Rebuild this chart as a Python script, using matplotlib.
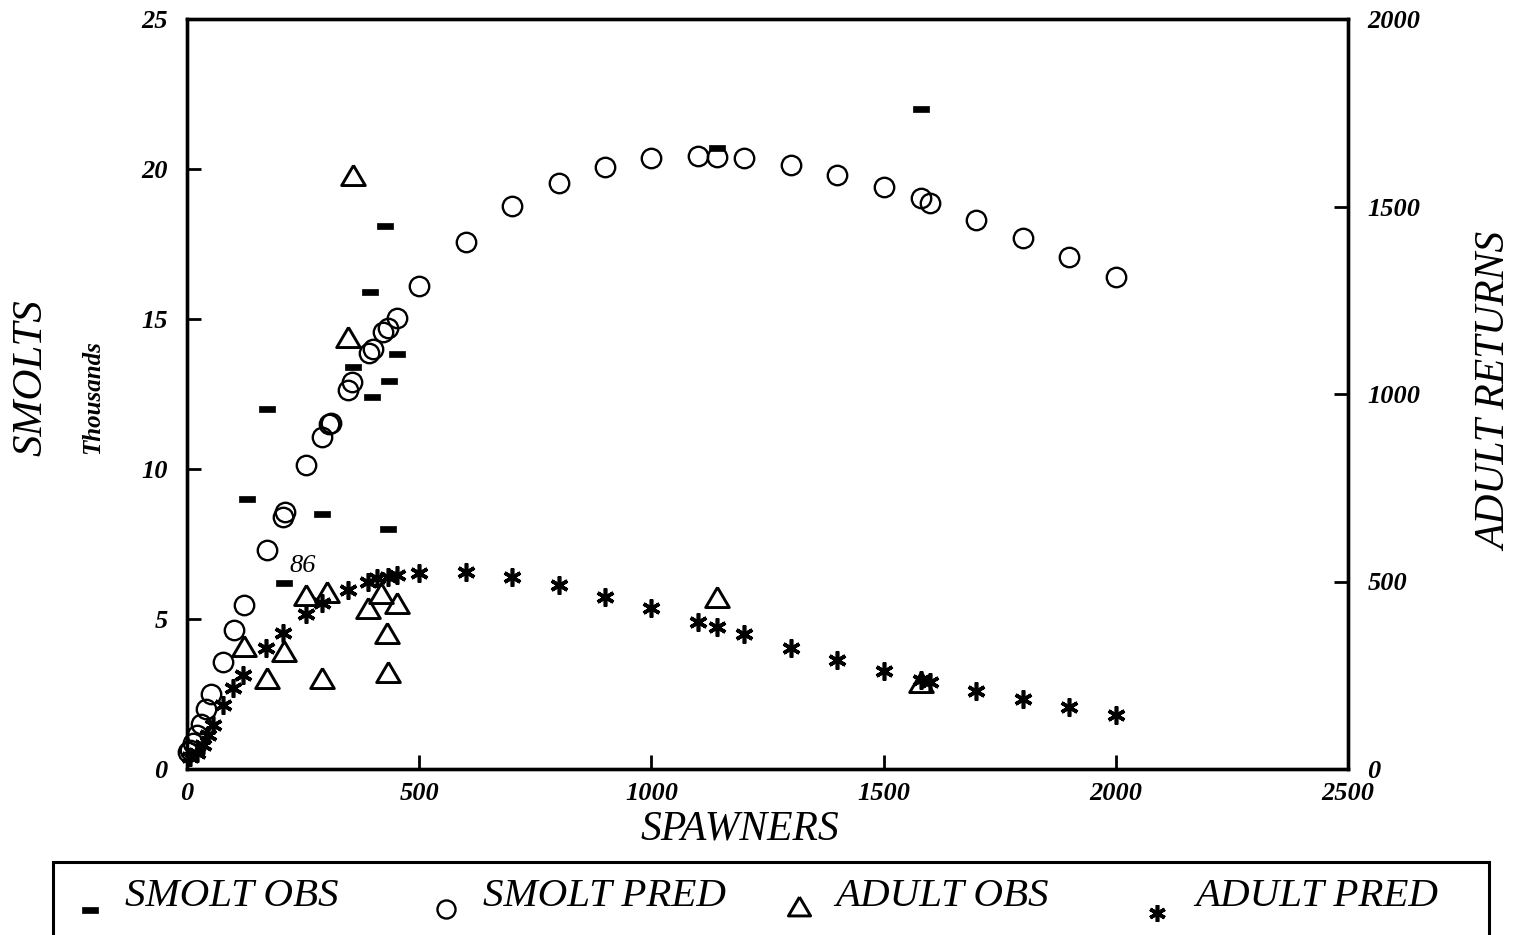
import matplotlib
matplotlib.use("Agg")
import matplotlib.pyplot as plt
from matplotlib.lines import Line2D
from matplotlib.patches import Rectangle

# ---------------- data ----------------
smolt_obs_spawners = [129, 172, 209, 291, 358, 394, 399, 427, 435, 453, 433, 1142, 1580]
smolt_obs = [9.0, 12.0, 6.2, 8.5, 13.4, 15.9, 12.4, 18.1, 12.95, 13.85, 8.0, 20.7, 22.0]

smolt_pred_spawners = [2, 6, 13, 22, 30, 41, 52, 78, 101, 123, 172, 207, 211, 256, 291, 306, 310,
                       347, 356, 392, 401, 422, 433, 453, 500, 600, 700, 800, 900, 1000, 1100,
                       1142, 1200, 1300, 1400, 1500, 1580, 1600, 1700, 1800, 1900, 2000]
smolt_pred = [0.57, 0.63, 0.87, 1.13, 1.5, 2.0, 2.5, 3.57, 4.63, 5.47, 7.3, 8.4, 8.57, 10.13, 11.07,
              11.5, 11.53, 12.63, 12.9, 13.87, 14.0, 14.57, 14.7, 15.03, 16.1, 17.57, 18.77, 19.53,
              20.07, 20.37, 20.43, 20.4, 20.37, 20.13, 19.8, 19.4, 19.03, 18.87, 18.3, 17.7, 17.07, 16.4]

adult_obs_spawners = [358, 347, 123, 172, 209, 256, 302, 291, 390, 418, 453, 431, 433, 1142, 1580]
adult_obs = [1584, 1152, 328, 243, 315, 464, 472, 243, 429, 469, 443, 363, 259, 459, 232]

adult_pred_spawners = [6, 22, 35, 45, 56, 78, 100, 120, 170, 207, 256, 291, 347, 390, 410, 433, 453,
                       500, 600, 700, 800, 900, 1000, 1100, 1142, 1200, 1300, 1400, 1500, 1580,
                       1600, 1700, 1800, 1900, 2000]
adult_pred = [32, 43, 64, 91, 117, 171, 216, 251, 323, 363, 413, 443, 477, 499, 509, 512, 517,
              523, 525, 512, 491, 459, 429, 392, 379, 360, 323, 291, 261, 237, 232, 208, 187, 165, 144]

x_ticks = [0, 500, 1000, 1500, 2000, 2500]
left_ticks = [0, 5, 10, 15, 20, 25]
right_ticks = [0, 500, 1000, 1500, 2000]
legend_labels = ["SMOLT OBS", "SMOLT PRED", "ADULT OBS", "ADULT PRED"]

# ---------------- style ----------------
FONT = "Liberation Serif"
plt.rcParams["font.family"] = [FONT, "DejaVu Serif"]
plt.rcParams["font.style"] = "italic"

W, H = 1517, 935
fig = plt.figure(figsize=(W / 100, H / 100), dpi=100)
fig.patch.set_facecolor("white")

def fx(px):
    return px / W

def fy(py):
    return 1 - py / H

ax = fig.add_axes([fx(187), fy(769), fx(1348) - fx(187), fy(19) - fy(769)])
ax2 = ax.twinx()

dash_marker = [(-1, -0.36), (1, -0.36), (1, 0.36), (-1, 0.36), (-1, -0.36)]
tri_marker = [(0, 0.85), (-1, -0.85), (1, -0.85), (0, 0.85)]
ast_marker = (6, 2, 0)

ax.plot(smolt_pred_spawners, smolt_pred, linestyle="none", marker="o", markersize=14,
        markerfacecolor="none", markeredgecolor="black", markeredgewidth=1.7, clip_on=False, zorder=3)
ax.plot(smolt_obs_spawners, smolt_obs, linestyle="none", marker=dash_marker, markersize=12,
        markerfacecolor="black", markeredgecolor="black", markeredgewidth=0.5, zorder=4)
ax2.plot(adult_obs_spawners, adult_obs, linestyle="none", marker=tri_marker, markersize=17,
         markerfacecolor="none", markeredgecolor="black", markeredgewidth=2.1, zorder=3)
ax2.plot(adult_pred_spawners, adult_pred, linestyle="none", marker=ast_marker, markersize=13,
         markeredgecolor="black", markeredgewidth=2.6, zorder=4, clip_on=False)

ax.text(250, 6.78, "86", fontsize=19, ha="center", va="center", family=FONT, style="italic")

ax.set_xlim(0, 2500)
ax.set_ylim(0, 25)
ax2.set_ylim(0, 2000)
ax.set_xticks(x_ticks)
ax.set_yticks(left_ticks)
ax2.set_yticks(right_ticks)

tick_font = dict(fontsize=19, family=FONT, style="italic", weight="bold")
ax.set_xticklabels([str(t) for t in x_ticks], **tick_font)
ax.set_yticklabels([str(t) for t in left_ticks], **tick_font)
ax2.set_yticklabels([str(t) for t in right_ticks], **tick_font)

for a in (ax, ax2):
    for s in a.spines.values():
        s.set_linewidth(2.4)
        s.set_color("black")
ax.tick_params(axis="both", direction="in", length=10, width=2.0, colors="black")
ax.tick_params(axis="y", pad=14)
ax.tick_params(axis="x", pad=9)
ax.tick_params(axis="y", right=False)
ax2.tick_params(axis="y", direction="in", length=10, width=2.0, pad=14)
ax2.tick_params(axis="x", top=False)

# axis titles
fig.text(fx(31), fy(378), "SMOLTS", rotation=90, fontsize=31, ha="center", va="center",
         family=FONT, style="italic")
fig.text(fx(93), fy(397), "Thousands", rotation=90, fontsize=18, ha="center", va="center",
         family=FONT, style="italic", weight="bold")
fig.text(fx(740), fy(829), "SPAWNERS", fontsize=30, ha="center", va="center",
         family=FONT, style="italic")
fig.text(fx(1496), fy(392), "ADULT RETURNS", rotation=90, fontsize=30, ha="center", va="center",
         family=FONT, style="italic")

# legend box
fig.patches.append(Rectangle((fx(53), fy(940)), fx(1489) - fx(53), fy(862) - fy(940),
                             transform=fig.transFigure, fill=False, edgecolor="black",
                             linewidth=2.2, clip_on=False))

leg_markers = [
    (90, 910, dict(marker=dash_marker, markersize=12, markerfacecolor="black", markeredgecolor="black", markeredgewidth=0.5)),
    (446, 909, dict(marker="o", markersize=13, markerfacecolor="none", markeredgecolor="black", markeredgewidth=1.7)),
    (799, 906, dict(marker=tri_marker, markersize=16, markerfacecolor="none", markeredgecolor="black", markeredgewidth=2.1)),
    (1157, 913, dict(marker=ast_marker, markersize=12, markeredgecolor="black", markeredgewidth=2.6)),
]
leg_text_x = [125, 483, 835, 1195]
for (mx, my, kw), tx, lab in zip(leg_markers, leg_text_x, legend_labels):
    fig.lines.append(Line2D([fx(mx)], [fy(my)], transform=fig.transFigure, linestyle="none", **kw))
    fig.text(fx(tx), fy(897), lab, fontsize=29.5, ha="left", va="center", family=FONT, style="italic")

fig.savefig("out.png", dpi=100, facecolor="white")
